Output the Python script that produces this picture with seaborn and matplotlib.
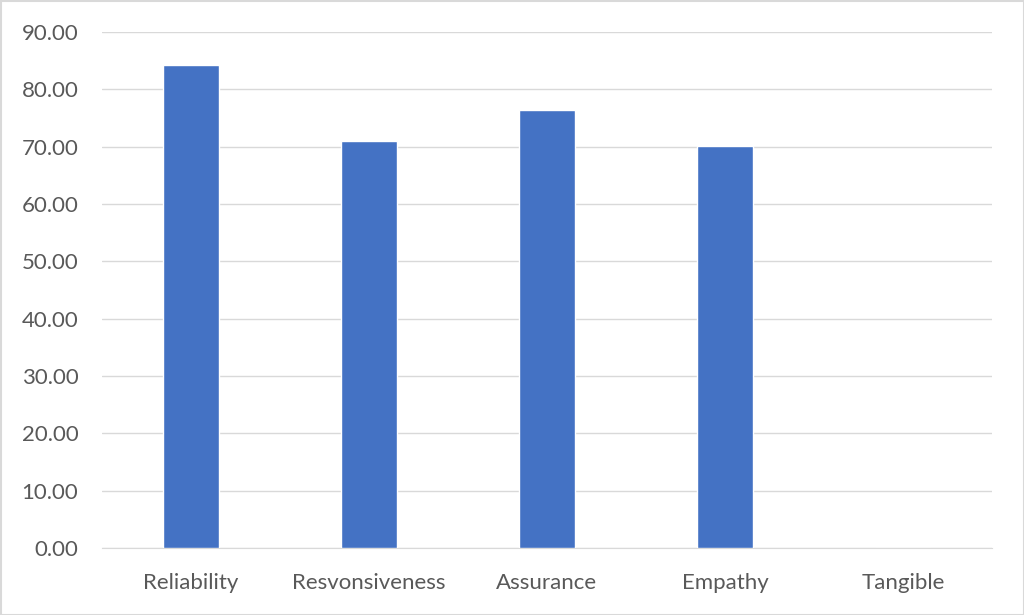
import matplotlib
matplotlib.use("Agg")
import matplotlib.pyplot as plt
import seaborn as sns
import pandas as pd
from matplotlib.patches import Rectangle

categories = ["Reliability", "Resvonsiveness", "Assurance", "Empathy", "Tangible"]
scores = [84.2, 71.0, 76.4, 70.2, 0.0]
yticks = [0, 10, 20, 30, 40, 50, 60, 70, 80, 90]

df = pd.DataFrame({"dimension": categories, "score": scores})

sns.set_style("white")
plt.rcParams["font.family"] = ["Lato", "DejaVu Sans"]

fig = plt.figure(figsize=(10.24, 6.15), dpi=100)
ax = fig.add_axes([102 / 1024, (615 - 548) / 615, (992 - 102) / 1024, (548 - 32) / 615])

sns.barplot(data=df, x="dimension", y="score", color="#4472C4", width=0.315,
            saturation=1, ax=ax, zorder=3)

ax.set_ylim(0, 90)
ax.set_yticks(yticks)
ax.set_yticklabels([f"{v:.2f}" for v in yticks])
ax.set_xlabel("")
ax.set_ylabel("")
ax.grid(axis="y", color="#D9D9D9", linewidth=1, zorder=0)
for s in ["top", "right", "left"]:
    ax.spines[s].set_visible(False)
ax.spines["bottom"].set_color("#D9D9D9")
ax.tick_params(axis="both", length=0, labelsize=16, colors="#595959")
ax.tick_params(axis="x", pad=18)
ax.tick_params(axis="y", pad=17)

fig.patches.append(Rectangle((0.5 / 1024, 0.5 / 615), 1 - 1 / 1024, 1 - 1 / 615,
                             transform=fig.transFigure, fill=False,
                             edgecolor="#D9D9D9", linewidth=1.5))

fig.savefig("out.png", dpi=100)
